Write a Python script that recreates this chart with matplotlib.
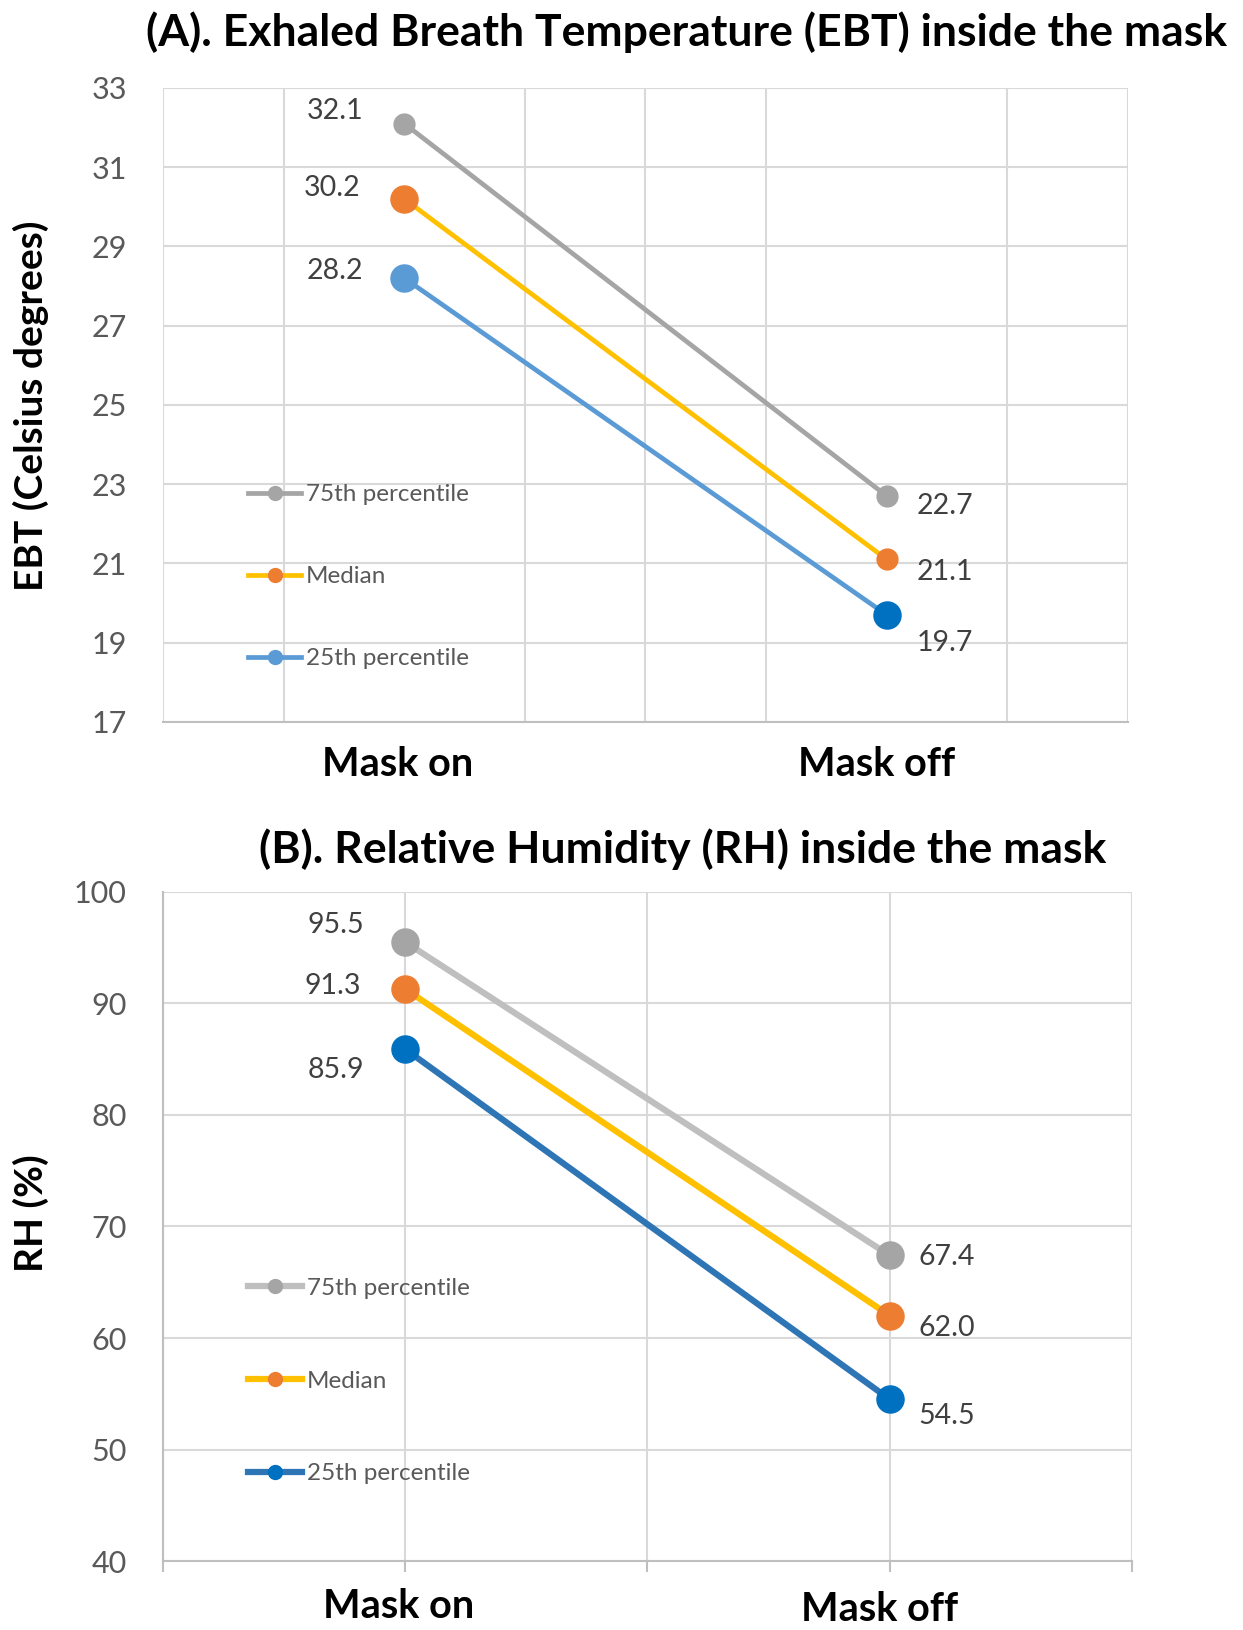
import numpy as np
import matplotlib
matplotlib.use("Agg")
import matplotlib.pyplot as plt
from matplotlib.lines import Line2D

plt.rcParams['font.family'] = ['Lato', 'DejaVu Sans']

#%% data
categories = ["Mask on", "Mask off"]
series_names = ["75th percentile", "Median", "25th percentile"]

ebt_p75 = [32.1, 22.7]
ebt_median = [30.2, 21.1]
ebt_p25 = [28.2, 19.7]

rh_p75 = [95.5, 67.4]
rh_median = [91.3, 62.0]
rh_p25 = [85.9, 54.5]

ebt_ticks = [17, 19, 21, 23, 25, 27, 29, 31, 33]
rh_ticks = [40, 50, 60, 70, 80, 90, 100]

#%% styles
GRID = "#D9D9D9"
AXIS = "#BFBFBF"
TXT = "#595959"
LBL = "#404040"

# (line colour, marker colours per point, marker sizes per point)
style_a = [
    ("#A5A5A5", ["#A5A5A5", "#A5A5A5"], [15, 15]),
    ("#FFC000", ["#ED7D31", "#ED7D31"], [19.5, 15]),
    ("#5B9BD5", ["#5B9BD5", "#0070C0"], [19.5, 19.5]),
]
style_b = [
    ("#BFBFBF", ["#A5A5A5", "#A5A5A5"], [19.5, 19.5]),
    ("#FFC000", ["#ED7D31", "#ED7D31"], [19.5, 19.5]),
    ("#2E75B6", ["#0070C0", "#0070C0"], [19.5, 19.5]),
]
legend_marker_a = ["#A5A5A5", "#ED7D31", "#5B9BD5"]
legend_marker_b = ["#A5A5A5", "#ED7D31", "#0070C0"]

# label offsets in points (dx, dy) for each series, per point
offs_a = [[(-50, 9), (42, -7)], [(-52, 8), (42, -9)], [(-50, 5), (42, -20)]]
offs_b = [[(-50, 12), (41, -1)], [(-52, 2), (41, -9)], [(-50, -15), (41, -12)]]
# category label offsets (dx, dy) in points
cat_offs_a = [(-5, -31), (-7, -31)]
cat_offs_b = [(-5, -33), (-7, -35)]

fig = plt.figure(figsize=(12.43, 16.3), dpi=100)
ax1 = fig.add_axes([0.1311, 0.5571, 0.7764, 0.389])
ax2 = fig.add_axes([0.1311, 0.0423, 0.7796, 0.4105])

x = np.arange(len(categories))


def draw(ax, data, styles, offs, lw, legend_markers, leg_anchor, leg_space, cat_offs):
    for vals, (lc, mcs, mss), off in zip(data, styles, offs):
        ax.plot(x, vals, color=lc, lw=lw, solid_capstyle="round", zorder=3)
        for xi, v, mc, ms, (dx, dy) in zip(x, vals, mcs, mss, off):
            ax.plot(xi, v, "o", color=mc, ms=ms, mec=mc, zorder=4)
            ax.annotate("%.1f" % v, (xi, v), xytext=(dx, dy), textcoords="offset points",
                        ha="center", va="center", fontsize=20.5, color=LBL)
    handles = [Line2D([0], [0], color=s[0], lw=lw, marker="o", ms=10,
                      mfc=m, mec=m) for s, m in zip(styles, legend_markers)]
    leg = ax.legend(handles, series_names, loc="center left", bbox_to_anchor=leg_anchor,
                    frameon=False, fontsize=17.5, labelspacing=leg_space, handlelength=2.2,
                    handletextpad=0.2, borderpad=0, borderaxespad=0, numpoints=1)
    for t in leg.get_texts():
        t.set_color(TXT)
    ax.set_xlim(-0.5, 1.5)
    ax.set_xticks(x)
    ax.set_xticklabels([])
    for xi, cat, (dx, dy) in zip(x, categories, cat_offs):
        ax.annotate(cat, (xi, 0), xycoords=("data", "axes fraction"), xytext=(dx, dy),
                    textcoords="offset points", ha="center", va="center",
                    fontsize=28.5, fontweight="bold", annotation_clip=False)
    ax.tick_params(axis="y", length=0, labelsize=22, labelcolor=TXT, pad=26)
    ax.grid(True, axis="y", color=GRID, lw=1.5, zorder=0)
    ax.set_axisbelow(True)
    for s in ["top", "right", "left"]:
        ax.spines[s].set_visible(False)
    ax.spines["bottom"].set_color(AXIS)
    ax.spines["bottom"].set_linewidth(1.5)


#%% panel A
draw(ax1, [ebt_p75, ebt_median, ebt_p25], style_a, offs_a, 3.4, legend_marker_a,
     (0.088, 0.229), 2.5, cat_offs_a)
ax1.set_ylim(17, 33)
ax1.set_yticks(ebt_ticks)
ax1.set_xticks(np.arange(-0.5, 1.51, 0.25), minor=True)
ax1.grid(True, axis="x", which="minor", color=GRID, lw=1.5, zorder=0)
ax1.tick_params(axis="x", which="both", length=0)

#%% panel B
draw(ax2, [rh_p75, rh_median, rh_p25], style_b, offs_b, 4.5, legend_marker_b,
     (0.088, 0.269), 2.95, cat_offs_b)
ax2.set_ylim(40, 100)
ax2.set_yticks(rh_ticks)
ax2.set_xticks(np.arange(-0.5, 1.51, 0.5), minor=True)
ax2.grid(True, axis="x", which="both", color=GRID, lw=1.5, zorder=0)
ax2.tick_params(axis="x", which="both", length=8, width=1.5, color=AXIS)
ax2.spines["left"].set_visible(True)
ax2.spines["left"].set_color(AXIS)
ax2.spines["left"].set_linewidth(1.5)

#%% titles and axis labels
fig.text(0.552, 0.980, "(A). Exhaled Breath Temperature (EBT) inside the mask",
         ha="center", va="center", fontsize=32, fontweight="bold")
fig.text(0.549, 0.479, "(B). Relative Humidity (RH) inside the mask",
         ha="center", va="center", fontsize=32, fontweight="bold")
fig.text(0.025, 0.751, "EBT (Celsius degrees)", rotation=90, ha="center", va="center",
         fontsize=28, fontweight="bold")
fig.text(0.025, 0.256, "RH (%)", rotation=90, ha="center", va="center",
         fontsize=28, fontweight="bold")

fig.savefig("out.png", dpi=100)
